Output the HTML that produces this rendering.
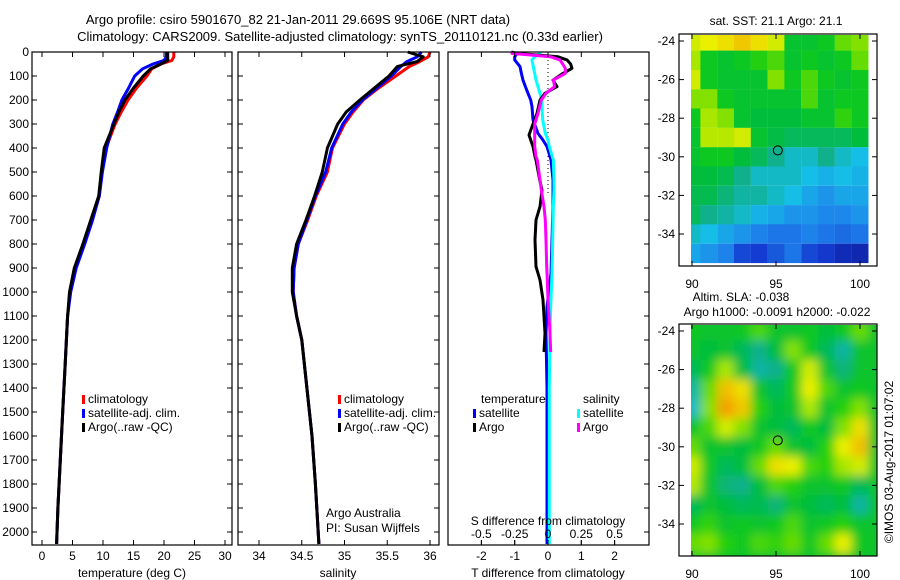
<!DOCTYPE html>
<html><head><meta charset="utf-8">
<style>
html,body{margin:0;padding:0;background:#fff;}
svg{display:block;font-family:"Liberation Sans",sans-serif;}
text{font-size:12px;fill:#000;}
</style></head>
<body>
<svg id="c" width="900" height="580" xmlns="http://www.w3.org/2000/svg">
<defs>
<clipPath id="clip1"><rect x="691" y="35" width="186" height="231"/></clipPath>
<clipPath id="clip2"><rect x="691" y="325" width="186" height="231"/></clipPath>
<filter id="blur2"><feGaussianBlur stdDeviation="5"/></filter>
</defs>
<text x="298" y="24" text-anchor="middle" style="font-size:13px">Argo profile: csiro 5901670_82 21-Jan-2011 29.669S 95.106E (NRT data)</text>
<text x="340" y="41" text-anchor="middle" style="font-size:13px">Climatology: CARS2009. Satellite-adjusted climatology: synTS_20110121.nc (0.33d earlier)</text>
<g id="g"></g>
</svg>
<script>
// ---------- data ----------
const depthTicks=[0,100,200,300,400,500,600,700,800,900,1000,1100,1200,1300,1400,1500,1600,1700,1800,1900,2000];
const tempTicks=[0,5,10,15,20,25,30];
const salTicks=[34,34.5,35,35.5,36];
const tdiffTicks=[-2,-1,0,1,2];
const sdiffTicks=[-0.5,-0.25,0,0.25,0.5];
const tDepth=[0,20,35,50,70,100,150,200,250,300,400,500,600,700,800,900,1000,1100,1300,1500,1700,1900,2050];
const tClim=[21.6,21.6,21.3,19.5,18,17.2,15.5,14.1,13,12,10.5,9.8,9.4,8.2,6.8,5.4,4.6,4.2,3.8,3.4,3.0,2.6,2.4];
const tSat=[20.4,20.4,20.0,18.2,16.5,15.2,14.2,13.1,12.4,11.6,10.6,9.9,9.4,8.3,7.0,5.6,4.7,4.2,3.8,3.4,3.0,2.6,2.4];
const tArgo=[20.6,20.6,20.6,19.5,17.8,16.6,15.0,13.6,12.6,11.8,10.2,9.7,9.3,8.0,6.7,5.3,4.5,4.2,3.8,3.4,3.0,2.6,2.4];
const sDepth=[0,20,40,60,100,150,200,250,300,400,500,600,700,800,900,1000,1100,1200,1400,1600,1800,2050];
const sClim=[36.0,35.98,35.88,35.76,35.6,35.4,35.22,35.1,35.0,34.86,34.8,34.67,34.57,34.46,34.41,34.4,34.44,34.5,34.56,34.62,34.66,34.7];
const sSat=[35.9,35.85,35.73,35.66,35.55,35.38,35.21,35.08,34.98,34.85,34.78,34.66,34.56,34.46,34.41,34.4,34.44,34.5,34.56,34.62,34.66,34.7];
const sArgo=[35.74,35.92,35.85,35.62,35.52,35.35,35.18,35.02,34.92,34.8,34.74,34.65,34.55,34.44,34.39,34.39,34.44,34.5,34.56,34.62,34.66,34.7];
const dDepth=[0,6,20,33,50,68,89,117,144,172,200,256,300,346,394,436,450,533,575,644,700,783,894,950,1033,1172,1250];
const dTArgo=[-1.1,-0.93,0.3,0.57,0.68,0.72,0.45,0.15,0.27,-0.09,-0.24,-0.33,-0.45,-0.57,-0.45,-0.39,-0.36,-0.25,-0.18,-0.24,-0.36,-0.39,-0.36,-0.24,-0.15,-0.09,-0.12];
const dSArgo=[-0.27,-0.27,0.02,0.09,0.11,0.13,0.13,0.04,0.05,-0.015,-0.05,-0.075,-0.1,-0.1,-0.1,-0.09,-0.08,-0.06,-0.05,-0.03,-0.02,-0.015,-0.01,-0.005,0.0,0.015,0.02];
const sDDepth=[0,6,20,33,61,89,117,144,172,200,228,283,339,367,394,450,533,575,644,783,922,1061,1172,1400,1700,2050];
const dTSat=[-0.9,-0.93,-1.0,-1.0,-0.84,-0.8,-0.75,-0.68,-0.6,-0.52,-0.48,-0.45,-0.3,-0.15,-0.03,0.09,0.15,0.15,0.15,0.12,0.09,-0.03,-0.06,-0.03,-0.03,-0.03];
const dSSat=[-0.06,-0.06,-0.1,-0.12,-0.11,-0.1,-0.09,-0.075,-0.06,-0.045,-0.045,-0.04,-0.02,0,0.01,0.04,0.045,0.045,0.04,0.035,0.03,0.02,0.015,0.01,0.01,0.01];
const mapLon=[90,91,92,93,94,95,96,97,98,99,100];
const mapLat=[-24,-25,-26,-27,-28,-29,-30,-31,-32,-33,-34,-35];
const sstGrid=[
[.78,.8,.82,.85,.82,.78,.6,.6,.62,.7,.72],
[.75,.62,.6,.62,.65,.68,.6,.62,.6,.62,.7],
[.78,.62,.6,.6,.6,.72,.62,.68,.62,.6,.62],
[.72,.72,.62,.6,.6,.6,.6,.68,.6,.62,.62],
[.62,.75,.72,.6,.58,.58,.58,.6,.6,.66,.62],
[.6,.76,.76,.78,.6,.57,.55,.55,.55,.55,.58],
[.6,.62,.62,.58,.55,.5,.45,.45,.5,.45,.42],
[.58,.58,.56,.5,.45,.45,.45,.42,.4,.42,.4],
[.56,.56,.52,.48,.48,.45,.42,.38,.35,.38,.38],
[.55,.5,.48,.45,.4,.38,.35,.35,.33,.33,.35],
[.45,.42,.38,.35,.32,.3,.3,.32,.3,.28,.3],
[.38,.35,.32,.22,.2,.25,.3,.22,.18,.12,.1]];
const slaGrid=[
[.62,.6,.6,.62,.68,.6,.6,.62,.58,.62,.7],
[.6,.58,.6,.55,.5,.58,.72,.62,.55,.48,.6],
[.55,.62,.75,.58,.48,.5,.62,.78,.6,.52,.6],
[.48,.7,.86,.82,.6,.55,.62,.8,.68,.6,.62],
[.45,.72,.9,.85,.65,.58,.6,.75,.6,.65,.72],
[.6,.68,.78,.72,.6,.58,.55,.62,.58,.72,.82],
[.7,.6,.6,.58,.62,.7,.6,.58,.65,.8,.86],
[.78,.62,.55,.58,.7,.82,.8,.68,.65,.75,.78],
[.76,.6,.52,.5,.58,.68,.65,.6,.6,.62,.55],
[.55,.6,.58,.55,.56,.52,.6,.58,.55,.58,.48],
[.62,.66,.6,.62,.6,.62,.68,.6,.62,.65,.6],
[.7,.72,.65,.62,.68,.66,.7,.62,.7,.8,.62]];
const latTicks=[-24,-26,-28,-30,-32,-34];
const lonTicks=[90,95,100];
const argoLon=95.106, argoLat=-29.669;

// ---------- helpers ----------
const NS="http://www.w3.org/2000/svg";
const G=document.getElementById('g');
function mk(tag,attrs,parent){const e=document.createElementNS(NS,tag);for(const k in attrs)e.setAttribute(k,attrs[k]);(parent||G).appendChild(e);return e;}
function txt(x,y,s,anchor,parent){const t=mk('text',{x:x,y:y,'text-anchor':anchor||'start'},parent);t.textContent=s;return t;}
const yD=d=>52+d*0.24;
const xT=t=>42+t*6.1;
const xS=s=>259+(s-34)*85.5;
const xTd=v=>548+v*33.3;
const xSd=v=>548+v*133.2;

function box(x0,x1,name){const r=mk('rect',{x:x0,y:52,width:x1-x0,height:493,fill:'none',stroke:'#000','stroke-width':1.2});

}
function depthAxis(x0,x1,labels){
  depthTicks.forEach(d=>{const y=yD(d);
    const a=mk('line',{x1:x0,x2:x0+5,y1:y,y2:y,stroke:'#000'});
    
    
    const b=mk('line',{x1:x1-5,x2:x1,y1:y,y2:y,stroke:'#000'});
    
    
    if(labels){const t=txt(29,y+4,String(d),'end');
      
      }
  });
}
function xAxis(ticks,fx,y0,ylab,fmt,name){
  ticks.forEach(v=>{const x=fx(v);
    const a=mk('line',{x1:x,x2:x,y1:545,y2:540,stroke:'#000'});
    
    
    const b=mk('line',{x1:x,x2:x,y1:52,y2:57,stroke:'#000'});
    
    
    const t=txt(x,ylab,fmt?fmt(v):String(v),'middle');
    
    
  });
}
function line(ds,vs,fx,color,name,w){
  const pts=ds.map((d,i)=>fx(vs[i]).toFixed(1)+','+yD(d).toFixed(1)).join(' ');
  const p=mk('polyline',{points:pts,fill:'none',stroke:color,'stroke-width':w||3,'stroke-linejoin':'round'});
  
  
}
function legendEntry(x,y,color,label,name){
  const r=mk('rect',{x:x,y:y-8,width:3,height:9,fill:color});
  
  
  const t=txt(x+6,y,label);
  
  
}

// ---------- panel 1: temperature ----------
line(tDepth,tClim,xT,'#f00','temp-climatology-line');
line(tDepth,tSat,xT,'#00f','temp-satellite-line');
line(tDepth,tArgo,xT,'#000','temp-argo-line');
box(32,232,'temperature-plot-frame');
depthAxis(32,232,true);
xAxis(tempTicks,xT,52,560,null,'temperature');
let t=txt(132,577,'temperature (deg C)','middle');


legendEntry(82,403,'#f00','climatology','temp-legend-climatology');
legendEntry(82,417,'#00f','satellite-adj. clim.','temp-legend-satellite');
legendEntry(82,431,'#000','Argo(..raw -QC)','temp-legend-argo');

// ---------- panel 2: salinity ----------
line(sDepth,sClim,xS,'#f00','sal-climatology-line');
line(sDepth,sSat,xS,'#00f','sal-satellite-line');
line(sDepth,sArgo,xS,'#000','sal-argo-line');
box(238,439,'salinity-plot-frame');
depthAxis(238,439,false);
xAxis(salTicks,xS,52,560,null,'salinity');
t=txt(338,577,'salinity','middle');


legendEntry(338,403,'#f00','climatology','sal-legend-climatology');
legendEntry(338,417,'#00f','satellite-adj. clim.','sal-legend-satellite');
legendEntry(338,431,'#000','Argo(..raw -QC)','sal-legend-argo');
t=txt(326,517,'Argo Australia');


t=txt(326,532,'PI: Susan Wijffels');



// ---------- panel 3: differences ----------
let zl=mk('line',{x1:548,x2:548,y1:yD(0),y2:yD(600),stroke:'#000','stroke-dasharray':'1,3'});


line(sDDepth,dTSat,xTd,'#00f','tdiff-satellite-line');
line(sDDepth,dSSat,xSd,'#0ff','sdiff-satellite-line');
line(dDepth,dTArgo,xTd,'#000','tdiff-argo-line');
line(dDepth,dSArgo,xSd,'#f0f','sdiff-argo-line');
box(448,649,'difference-plot-frame');
depthTicks.forEach(d=>{const y=yD(d);
  const b=mk('line',{x1:644,x2:649,y1:y,y2:y,stroke:'#000'});
  
  });
xAxis(tdiffTicks,xTd,52,560,null,'tdiff');
sdiffTicks.forEach(v=>{const x=xSd(v);
  const a=mk('line',{x1:x,x2:x,y1:545,y2:540,stroke:'#000'});
  
  
  const tt=txt(x,538,v===0?'0':String(v).replace('0.','0.'),'middle');
  
  });
t=txt(548,525,'S difference from climatology','middle');


t=txt(548,577,'T difference from climatology','middle');


t=txt(481,403,'temperature');


t=txt(583,403,'salinity');


legendEntry(473,417,'#00f','satellite','diff-legend-t-satellite');
legendEntry(473,431,'#000','Argo','diff-legend-t-argo');
legendEntry(577,417,'#0ff','satellite','diff-legend-s-satellite');
legendEntry(577,431,'#f0f','Argo','diff-legend-s-argo');

// ---------- maps ----------
const cstops=[[0,[10,20,140]],[0.2,[20,60,210]],[0.32,[30,130,235]],[0.42,[20,190,230]],[0.5,[16,176,140]],[0.58,[0,190,60]],[0.64,[20,205,20]],[0.72,[130,225,0]],[0.8,[235,240,0]],[0.9,[245,160,0]],[1,[230,60,0]]];
function cmap(v){for(let i=1;i<cstops.length;i++){if(v<=cstops[i][0]){const a=cstops[i-1],b=cstops[i];const f=(v-a[0])/(b[0]-a[0]);
  const c=a[1].map((q,k)=>Math.round(q+(b[1][k]-q)*f));return 'rgb('+c.join(',')+')';}}return 'rgb(230,60,0)';}
function drawMap(grid,top,clip,blur,name){
  const xL=lon=>692+(lon-90)*16.8;
  const yL=lat=>top+(-24-lat)*19.3;
  const g=mk('g',{'clip-path':'url(#'+clip+')'});
  
  
  const inner=mk('g',blur?{filter:'url(#blur2)'}:{},g);
  if(blur){const bg=mk('rect',{x:660,y:top-30,width:240,height:280,fill:cmap(0.6)},inner);}
  grid.forEach((row,i)=>row.forEach((v,j)=>{
    const x0=xL(mapLon[j]-0.5),y0=yL(mapLat[i]+0.5);
    const ext=blur?(j===0?25:0):0;
    const r=mk('rect',{x:(x0-ext).toFixed(1),y:y0.toFixed(1),width:(16.9+ext).toFixed(1),height:19.4,fill:cmap(v)},inner);
    
    
  }));
  const fr=mk('rect',{x:679,y:top-7,width:198,height:232,fill:'none',stroke:'#000','stroke-width':1.2});
  
  
  latTicks.forEach(l=>{const y=yL(l);
    const a=mk('line',{x1:679,x2:684,y1:y,y2:y,stroke:'#000'});
    
    
    const b=mk('line',{x1:872,x2:877,y1:y,y2:y,stroke:'#000'});
    
    
    const tt=txt(675,y+4,String(l),'end');
    
    });
  lonTicks.forEach(l=>{const x=xL(l);
    const a=mk('line',{x1:x,x2:x,y1:top+225,y2:top+220,stroke:'#000'});
    
    
    const b=mk('line',{x1:x,x2:x,y1:top-7,y2:top-2,stroke:'#000'});
    
    
    const tt=txt(x,top+247,String(l),'middle');
    
    });
  const c=mk('circle',{cx:xL(argoLon),cy:yL(argoLat),r:4.5,fill:'none',stroke:'#000','stroke-width':1});
  
  
}
drawMap(sstGrid,41,'clip1',false,'sst-map');
drawMap(slaGrid,331,'clip2',true,'sla-map');
t=txt(776,25,'sat. SST: 21.1 Argo: 21.1','middle');


t=txt(741,301,'Altim. SLA: -0.038','middle');


t=txt(777,316,'Argo h1000: -0.0091 h2000: -0.022','middle');


t=txt(0,0,'©IMOS 03-Aug-2017 01:07:02','middle');
t.setAttribute('transform','translate(893,462) rotate(-90)');


</script>
</body></html>
